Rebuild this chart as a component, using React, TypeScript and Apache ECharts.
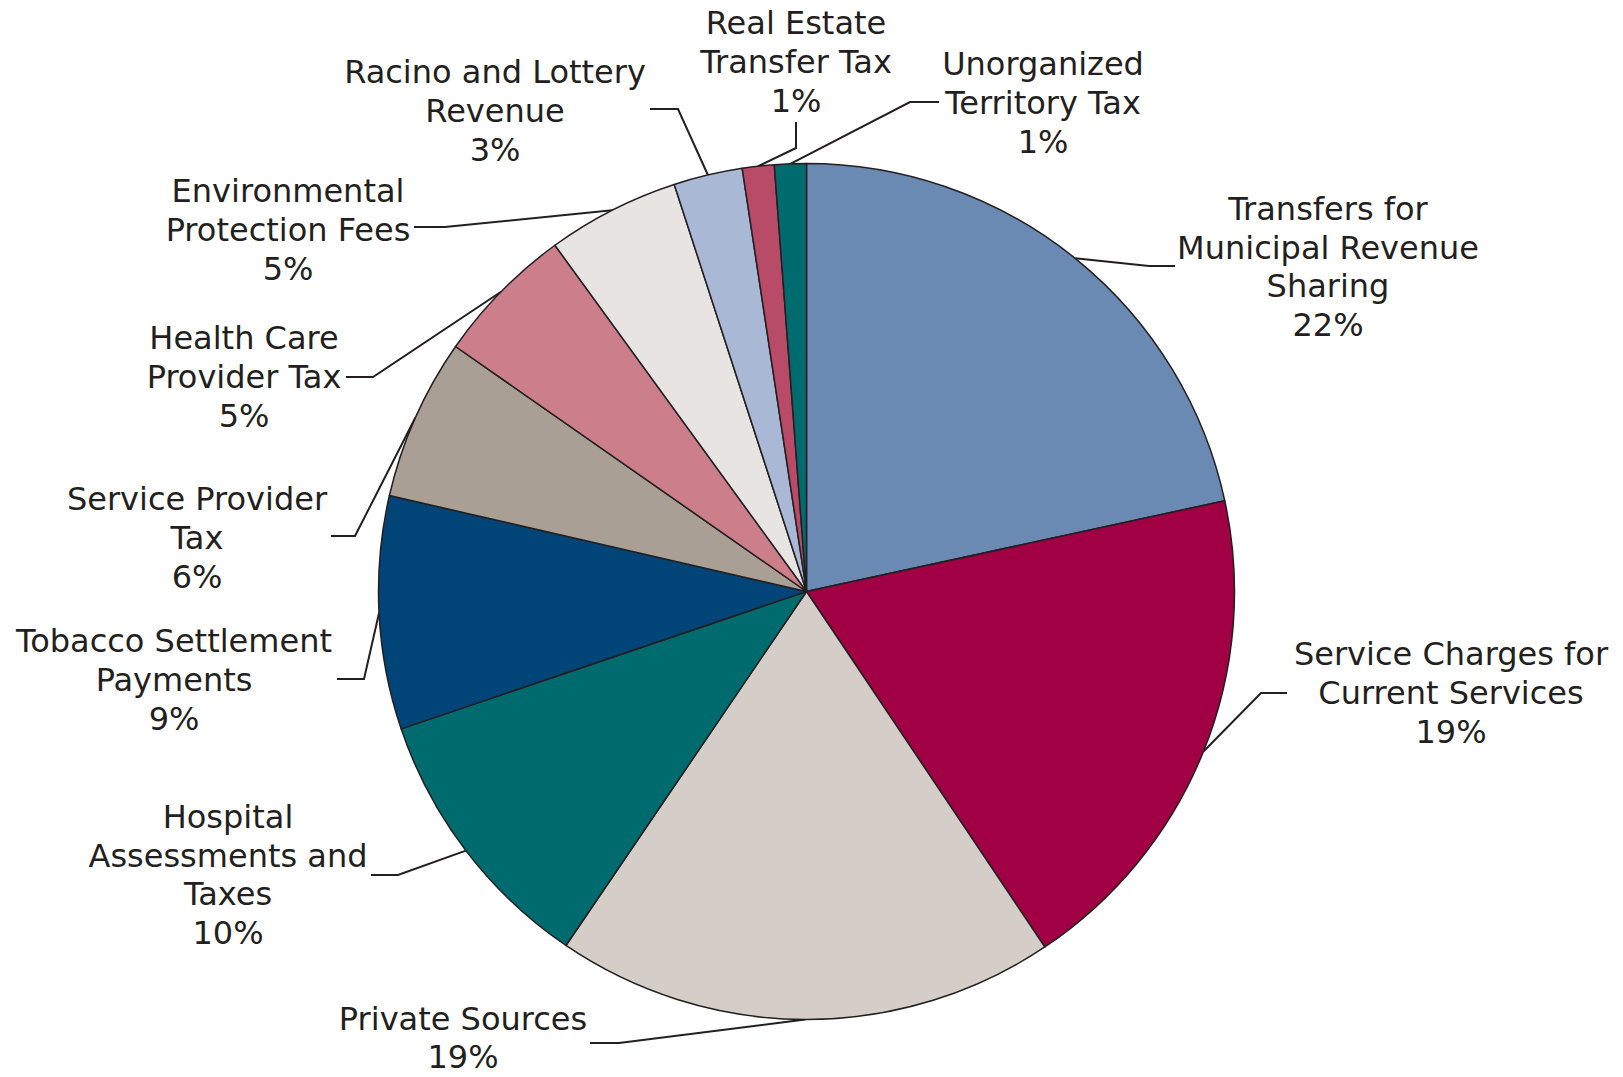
import React, { useEffect, useRef } from 'react';
import * as echarts from 'echarts';

// Categories (label text, with the line breaks used in the chart)
const categories = [
  'Transfers for\nMunicipal Revenue\nSharing',
  'Service Charges for\nCurrent Services',
  'Private Sources',
  'Hospital\nAssessments and\nTaxes',
  'Tobacco Settlement\nPayments',
  'Service Provider\nTax',
  'Health Care\nProvider Tax',
  'Environmental\nProtection Fees',
  'Racino and Lottery\nRevenue',
  'Real Estate\nTransfer Tax',
  'Unorganized\nTerritory Tax',
];

// Shares in percent
const shares = [21.6, 19.0, 18.9, 10.3, 8.8, 6.1, 5.3, 5.0, 2.6, 1.2, 1.2];

const colors = [
  '#6a8ab3', '#a10044', '#d5cdc7', '#006b6f', '#004478', '#a99f94',
  '#cd7e8b', '#e8e4e1', '#a9b8d5', '#b84b67', '#006b6f',
];

// Label placement: text block centre, leader elbow and leader end
const labelSpots = [
  { x: 1328, y: 267, elbow: [1149, 266], end: [1175, 266] },
  { x: 1451, y: 693, elbow: [1261, 693], end: [1287, 693] },
  { x: 463, y: 1038, elbow: [619, 1043], end: [590, 1043] },
  { x: 228, y: 875, elbow: [398, 875], end: [371, 875] },
  { x: 174, y: 680, elbow: [364, 679], end: [337, 679] },
  { x: 197, y: 538, elbow: [355, 536], end: [331, 536] },
  { x: 244, y: 377, elbow: [373, 377], end: [346, 377] },
  { x: 288, y: 230, elbow: [445, 227], end: [414, 227] },
  { x: 495, y: 111, elbow: [678, 109], end: [650, 109] },
  { x: 796, y: 62, elbow: [796, 148], end: [796, 122] },
  { x: 1043, y: 103, elbow: [910, 102], end: [939, 102] },
];

const CX = 806.5;
const CY = 591.5;
const R = 428;

export default function App() {
  const ref = useRef<HTMLDivElement>(null);

  useEffect(() => {
    document.body.style.margin = '0';
    if (!ref.current) return;
    const chart = echarts.init(ref.current, null, { renderer: 'svg' });
    const total = shares.reduce((a, b) => a + b, 0);

    chart.setOption({
      animation: false,
      backgroundColor: '#ffffff',
      series: [
        {
          type: 'pie',
          center: [CX, CY],
          radius: [0, R],
          startAngle: 90,
          clockwise: true,
          avoidLabelOverlap: false,
          data: categories.map((name, i) => ({
            name,
            value: shares[i],
            itemStyle: { color: colors[i] },
          })),
          itemStyle: { borderColor: '#231f20', borderWidth: 1.5 },
          label: {
            show: true,
            position: 'outside',
            formatter: (p: any) => `${p.name}\n${Math.round(p.percent)}%`,
            fontFamily: 'DejaVu Sans',
            fontSize: 32,
            lineHeight: 38.6,
            color: '#231f20',
            align: 'center',
          },
          labelLine: {
            show: true,
            length: 20,
            length2: 20,
            smooth: false,
            lineStyle: { color: '#231f20', width: 2 },
          },
          emphasis: { disabled: true },
          labelLayout: (params: any) => {
            const s = labelSpots[params.dataIndex];
            let start = params.labelLinePoints && params.labelLinePoints[0];
            if (!start) {
              let cum = 0;
              for (let k = 0; k < params.dataIndex; k++) cum += shares[k];
              const mid = ((cum + shares[params.dataIndex] / 2) / total) * Math.PI * 2;
              start = [CX + R * Math.sin(mid), CY - R * Math.cos(mid)];
            }
            return {
              x: s.x,
              y: s.y,
              align: 'center',
              verticalAlign: 'middle',
              labelLinePoints: [start, s.elbow, s.end],
            };
          },
        },
      ],
    });

    return () => chart.dispose();
  }, []);

  return <div ref={ref} style={{ width: 1623, height: 1077 }} />;
}
